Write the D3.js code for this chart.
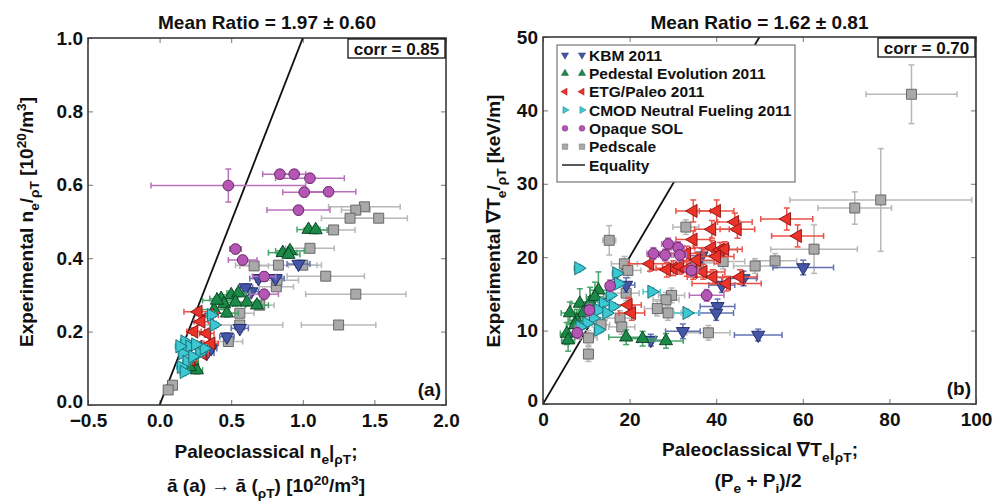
<!DOCTYPE html>
<html>
<head>
<meta charset="utf-8">
<script src="https://d3js.org/d3.v7.min.js"></script>
<style>
  body { margin: 0; background: #fff; }
  svg text { font-family: "Liberation Sans", Arial, sans-serif; font-weight: bold; fill: #111; }
  .frame { fill: none; stroke: #3a3a3a; stroke-width: 1.6; }
  .axis path { display: none; }
  .axis line { stroke: #777; stroke-width: 1; }
  .axis text { font-size: 19px; }
</style>
</head>
<body>
<svg id="chart" width="993" height="502"></svg>
<script>
// ---- data: each point is [x, y, xerr, yerr] ----
// panel (a): density
const kbmA = [[0.97,0.384,0.08,0.01],[0.69,0.345,0.06,0.01],[0.81,0.345,0.06,0.01],[0.64,0.309,0.05,0.01],
  [0.56,0.209,0.06,0.01],[0.47,0.186,0.05,0.01],[0.33,0.141,0.05,0.01],[0.36,0.154,0.04,0.01],[0.60,0.32,0.05,0.01]];
const pedA = [[1.04,0.478,0.08,0.01],[1.09,0.477,0.08,0.01],[0.86,0.415,0.1,0.01],[0.91,0.42,0.1,0.01],[0.90,0.41,0.08,0.01],
  [0.43,0.29,0.08,0.01],[0.50,0.30,0.1,0.01],[0.55,0.305,0.08,0.01],[0.45,0.275,0.06,0.01],[0.53,0.28,0.08,0.01],
  [0.61,0.28,0.1,0.01],[0.68,0.272,0.08,0.01],[0.38,0.26,0.1,0.01],[0.47,0.25,0.08,0.01],[0.26,0.095,0.04,0.01],
  [0.21,0.104,0.04,0.01],[0.23,0.12,0.04,0.01],[0.40,0.285,0.1,0.01]];
const etgA = [[0.27,0.254,0.1,0.01],[0.35,0.245,0.06,0.01],[0.29,0.227,0.05,0.01],[0.24,0.200,0.05,0.01],[0.33,0.195,0.05,0.01],
  [0.27,0.159,0.05,0.01],[0.36,0.168,0.05,0.01],[0.22,0.123,0.04,0.01],[0.30,0.14,0.04,0.01]];
const cmodA = [[0.36,0.245,0.03,0.01],[0.38,0.218,0.03,0.01],[0.175,0.173,0.03,0.01],[0.21,0.159,0.03,0.01],[0.28,0.141,0.03,0.01],
  [0.16,0.141,0.03,0.01],[0.19,0.118,0.03,0.01],[0.15,0.104,0.03,0.01],[0.23,0.132,0.03,0.01],[0.31,0.154,0.03,0.01],
  [0.14,0.16,0.03,0.01],[0.25,0.165,0.03,0.01],[0.17,0.09,0.03,0.01]];
const solA = [[0.48,0.598,0.54,0.045],[0.84,0.629,0.12,0.012],[0.94,0.629,0.08,0.012],[1.05,0.618,0.24,0.012],[1.01,0.580,0.15,0.012],
  [1.18,0.581,0.19,0.012],[0.97,0.531,0.22,0.012],[0.53,0.425,0.04,0.012],[0.58,0.395,0.1,0.012],[0.73,0.350,0.08,0.012],
  [0.73,0.302,0.1,0.012]];
const pedscaleA = [[1.43,0.540,0.25,0.01],[1.37,0.531,0.1,0.01],[1.33,0.509,0.2,0.01],[1.53,0.509,0.2,0.01],[1.215,0.477,0.15,0.01],
  [1.05,0.427,0.17,0.01],[0.83,0.381,0.3,0.01],[0.66,0.379,0.1,0.01],[1.0,0.381,0.1,0.01],[1.16,0.351,0.27,0.01],
  [0.815,0.322,0.12,0.01],[1.37,0.302,0.35,0.01],[1.25,0.218,0.26,0.01],[0.56,0.218,0.3,0.01],[0.48,0.173,0.1,0.01],
  [0.56,0.25,0.1,0.01],[0.09,0.054,0.02,0.01],[0.06,0.041,0.02,0.01],[0.70,0.272,0.1,0.01],[0.82,0.34,0.15,0.01]];

// panel (b): temperature gradient
const kbmB = [[36.6,20.2,3,1],[46.3,17.1,3,1],[41.3,16.2,3,1],[60.1,18.6,7,1],[40.3,13.3,4,1],[40.0,12.4,4,1],
  [32.3,9.9,4,1],[49.7,9.4,5.5,0.8],[24.9,8.7,3,0.8],[19.2,16.2,2,1]];
const pedB = [[12.8,15.5,2,2.5],[8.5,13.7,2,2],[10.9,13.9,2,2],[9.3,12.4,2,1.5],[7.8,11.4,2,1.5],[12.0,14.6,2,2],
  [6.2,12.4,2,1.5],[5.5,9.6,1.5,1.5],[5.8,8.7,1.5,1.5],[7.4,10.8,2,1.5],[19.2,9.1,4,1],[23.0,8.9,3,1],[28.4,8.6,4,1]];
const etgB = [[34.7,26.3,4,1.5],[40.1,26.3,4,1.5],[44.3,24.8,4,1.2],[44.9,23.8,4,1.2],[39.0,23.8,4,1.2],[56.3,25.2,6,1.5],
  [58.8,22.9,6,1.5],[34.7,22.4,4,1.2],[24.7,19.1,5,1],[39.0,21.3,4,1],[40.9,21.0,4,1],[42.0,21.1,4,1],[40.1,20.1,4,1],
  [33.2,20.5,4,1],[35.5,19.6,4,1],[30.1,18.5,4,1],[31.6,18.7,4,1],[33.2,18.4,4,1],[34.7,18.0,4,1],[37.0,18.0,5,1],
  [39.3,17.3,6,1],[42.4,16.4,8,1],[45.5,17.3,4,1],[19.7,13.5,3,1],[20.5,12.4,3,1],[28.6,18.3,4,1]];
const cmodB = [[8.2,18.5,1,0.5],[17.0,17.8,1,0.5],[25.1,15.3,2,0.5],[33.2,12.4,3,0.5],[15.5,14.8,1,0.5],[13.9,13.7,1,0.5],
  [16.2,13.3,1,0.5],[12.8,12.8,1,0.5],[14.7,12.4,1,0.5],[11.6,11.7,1,0.5],[10.1,11.0,1,0.5],[12.8,10.1,1,0.5],
  [8.5,10.5,1,0.5],[17.4,16.4,1,0.5]];
const solB = [[25.5,20.5,1.5,0.8],[28.2,20.3,1.5,0.8],[28.9,21.8,1.5,0.8],[31.2,21.3,1.5,0.8],[31.6,20.3,1.5,0.8],
  [34.3,18.2,1.5,0.8],[37.8,14.8,4,0.8],[15.5,16.1,1,0.8],[10.7,12.8,1,0.8],[7.9,9.7,1,0.8]];
const pedscaleB = [[85.1,42.2,10.5,4],[78.0,27.8,21,7],[72.0,26.7,8.5,2.2],[62.6,21.1,10,3.3],[53.6,19.5,5,1],[49.0,18.8,5,1],
  [41.6,19.4,5,1],[33.0,24.1,3,1],[15.3,22.3,1.5,2],[18.8,19.1,3,1],[19.6,18.2,3,1],[19.2,15.1,3,1],[29.7,14.8,3,1],
  [28.4,14.2,3,1],[26.4,13.0,3,1],[28.9,12.4,3,1],[38.2,9.7,5,1],[17.8,11.7,3,1],[18.2,10.5,3,1],[13.4,10.8,2,1],
  [10.5,9.0,2,1],[10.5,6.8,1,1],[35.5,19.2,4,1]];

const seriesNames = ["KBM 2011", "Pedestal Evolution 2011", "ETG/Paleo 2011", "CMOD Neutral Fueling 2011", "Opaque SOL", "Pedscale"];
const xTicksA = [-0.5, 0, 0.5, 1.0, 1.5, 2.0];
const yTicksA = [0, 0.2, 0.4, 0.6, 0.8, 1.0];
const xTicksB = [0, 20, 40, 60, 80, 100];
const yTicksB = [0, 10, 20, 30, 40, 50];
const titleA = "Mean Ratio = 1.97 \u00b1 0.60", titleB = "Mean Ratio = 1.62 \u00b1 0.81";
const corrA = "corr = 0.85", corrB = "corr = 0.70";

// marker styles: shape, fill, edge, error bar colour
const styles = {
  "KBM 2011":                  {shape: "down",   fill: "#4356a8", edge: "#1d2660", err: "#6272b4"},
  "Pedestal Evolution 2011":   {shape: "up",     fill: "#1b8a48", edge: "#0c3d20", err: "#46a468"},
  "ETG/Paleo 2011":            {shape: "left",   fill: "#ea3329", edge: "#8a1010", err: "#ea5248"},
  "CMOD Neutral Fueling 2011": {shape: "right",  fill: "#3cc8d2", edge: "#17686f", err: "#55c6ce"},
  "Opaque SOL":                {shape: "circle", fill: "#b556b5", edge: "#5e1f5e", err: "#bb70bb"},
  "Pedscale":                  {shape: "square", fill: "#a9a9a9", edge: "#5e5e5e", err: "#b8b8b8"}
};

const svg = d3.select("#chart");

function markerPath(shape, scale) {
  if (shape === "circle") return d3.symbol(d3.symbolCircle, 90 * scale)();
  if (shape === "square") return d3.symbol(d3.symbolSquare, 100 * scale)();
  return d3.symbol(d3.symbolTriangle, 75 * scale)();
}
function markerRot(shape) {
  return {down: 180, left: -90, right: 90, up: 0}[shape] || 0;
}

function drawPanel(p) {
  const x = d3.scaleLinear().domain(p.xDomain).range([p.left, p.right]);
  const y = d3.scaleLinear().domain(p.yDomain).range([p.bottom, p.top]);
  const w = p.right - p.left, h = p.bottom - p.top;

  const clipId = "clip" + p.id;
  svg.append("clipPath").attr("id", clipId)
    .append("rect").attr("x", p.left).attr("y", p.top).attr("width", w).attr("height", h);

  // ticks on all four sides, pointing inward
  svg.append("g").attr("class", "axis").attr("transform", "translate(0," + p.bottom + ")")
    .call(d3.axisBottom(x).tickValues(p.xTicks).tickSizeInner(-5).tickSizeOuter(0).tickPadding(9).tickFormat(p.xFmt));
  svg.append("g").attr("class", "axis").attr("transform", "translate(0," + p.top + ")")
    .call(d3.axisTop(x).tickValues(p.xTicks).tickSizeInner(-5).tickSizeOuter(0).tickFormat(""));
  const yAx = svg.append("g").attr("class", "axis").attr("transform", "translate(" + p.left + ",0)")
    .call(d3.axisLeft(y).tickValues(p.yTicks).tickSizeInner(-5).tickSizeOuter(0).tickPadding(5).tickFormat(p.yFmt));
  // lowest y label sits a touch higher, clear of the x labels
  yAx.selectAll(".tick text").filter(d => d === p.yTicks[0]).attr("dy", "0.12em");
  svg.append("g").attr("class", "axis").attr("transform", "translate(" + p.right + ",0)")
    .call(d3.axisRight(y).tickValues(p.yTicks).tickSizeInner(-5).tickSizeOuter(0).tickFormat(""));

  const plot = svg.append("g").attr("clip-path", "url(#" + clipId + ")");

  // equality line
  plot.append("line")
    .attr("x1", x(0)).attr("y1", y(0)).attr("x2", x(p.eqMax)).attr("y2", y(p.eqMax))
    .attr("stroke", "#111").attr("stroke-width", 1.8);

  const order = ["Pedscale", "KBM 2011", "Pedestal Evolution 2011", "ETG/Paleo 2011", "CMOD Neutral Fueling 2011", "Opaque SOL"];
  order.forEach(name => {
    const st = styles[name];
    const g = plot.append("g");
    const cap = 3;
    p.series[name].forEach(d => {
      const cx = x(d[0]), cy = y(d[1]);
      const x0 = x(d[0] - d[2]), x1 = x(d[0] + d[2]);
      const y0 = y(d[1] - d[3]), y1 = y(d[1] + d[3]);
      const e = g.append("g").attr("stroke", st.err).attr("stroke-width", 1.5);
      e.append("line").attr("x1", x0).attr("x2", x1).attr("y1", cy).attr("y2", cy);
      e.append("line").attr("x1", x0).attr("x2", x0).attr("y1", cy - cap).attr("y2", cy + cap);
      e.append("line").attr("x1", x1).attr("x2", x1).attr("y1", cy - cap).attr("y2", cy + cap);
      e.append("line").attr("x1", cx).attr("x2", cx).attr("y1", y0).attr("y2", y1);
      e.append("line").attr("x1", cx - cap).attr("x2", cx + cap).attr("y1", y0).attr("y2", y0);
      e.append("line").attr("x1", cx - cap).attr("x2", cx + cap).attr("y1", y1).attr("y2", y1);
    });
    g.selectAll("path.mk").data(p.series[name]).join("path").attr("class", "mk")
      .attr("d", markerPath(st.shape, 1))
      .attr("transform", d => "translate(" + x(d[0]) + "," + y(d[1]) + ") rotate(" + markerRot(st.shape) + ")")
      .attr("fill", st.fill).attr("stroke", st.edge).attr("stroke-width", 0.9);
  });

  svg.append("rect").attr("class", "frame").attr("x", p.left).attr("y", p.top).attr("width", w).attr("height", h);

  // title
  svg.append("text").attr("x", (p.left + p.right) / 2).attr("y", 29).attr("text-anchor", "middle")
    .style("font-size", "19px").text(p.title);

  // corr box
  const cb = svg.append("g");
  cb.append("rect").attr("x", p.right - 98).attr("y", p.top + 1).attr("width", 97).attr("height", 19)
    .attr("fill", "#fff").attr("stroke", "#111").attr("stroke-width", 1.3);
  cb.append("text").attr("x", p.right - 49.5).attr("y", p.top + 17).attr("text-anchor", "middle")
    .style("font-size", "17px").text(p.corr);

  // panel letter
  svg.append("text").attr("x", p.right - 5).attr("y", p.bottom - 9).attr("text-anchor", "end")
    .style("font-size", "19px").text(p.letter);

  return {x, y};
}

// add text made of runs: [str, "sub"|"sup"|null]
function richText(sel, runs, size) {
  let shift = 0;
  runs.forEach(r => {
    const t = sel.append("tspan").text(r[0]);
    let target = 0, fs = size;
    if (r[1] === "sub") { target = size * 0.3; fs = size * 0.72; }
    if (r[1] === "sup") { target = -size * 0.38; fs = size * 0.72; }
    t.attr("dy", target - shift).style("font-size", fs + "px");
    shift = target;
  });
  return sel;
}

const fmt1 = d3.format(".1f");
drawPanel({
  id: "a", left: 88, right: 446, top: 38, bottom: 405,
  xDomain: [-0.5, 2.0], yDomain: [0, 1.0], xTicks: xTicksA, yTicks: yTicksA,
  xFmt: d => fmt1(d).replace("-", "\u2212"), yFmt: fmt1, eqMax: 1.2,
  title: titleA, corr: corrA, letter: "(a)",
  series: {"KBM 2011": kbmA, "Pedestal Evolution 2011": pedA, "ETG/Paleo 2011": etgA,
           "CMOD Neutral Fueling 2011": cmodA, "Opaque SOL": solA, "Pedscale": pedscaleA}
});
drawPanel({
  id: "b", left: 543, right: 976, top: 37, bottom: 404,
  xDomain: [0, 100], yDomain: [0, 50], xTicks: xTicksB, yTicks: yTicksB,
  xFmt: d3.format("d"), yFmt: d3.format("d"), eqMax: 60,
  title: titleB, corr: corrB, letter: "(b)",
  series: {"KBM 2011": kbmB, "Pedestal Evolution 2011": pedB, "ETG/Paleo 2011": etgB,
           "CMOD Neutral Fueling 2011": cmodB, "Opaque SOL": solB, "Pedscale": pedscaleB}
});

// axis labels
richText(svg.append("text").attr("transform", "translate(33,222) rotate(-90)").attr("text-anchor", "middle"),
  [["Experimental n"], ["e", "sub"], ["/"], ["\u03c1T", "sub"], [" [10"], ["20", "sup"], ["/m"], ["3", "sup"], ["]"]], 19);
richText(svg.append("text").attr("transform", "translate(500,221) rotate(-90)").attr("text-anchor", "middle"),
  [["Experimental \u2207T"], ["e", "sub"], ["/"], ["\u03c1T", "sub"], [" [keV/m]"]], 19);
richText(svg.append("text").attr("x", 266).attr("y", 458).attr("text-anchor", "middle"),
  [["Paleoclassical n"], ["e", "sub"], ["|"], ["\u03c1T", "sub"], [";"]], 19);
richText(svg.append("text").attr("x", 266).attr("y", 492).attr("text-anchor", "middle"),
  [["\u0101 (a) \u2192 \u0101 ("], ["\u03c1T", "sub"], [") [10"], ["20", "sup"], ["/m"], ["3", "sup"], ["]"]], 19);
richText(svg.append("text").attr("x", 760).attr("y", 456).attr("text-anchor", "middle"),
  [["Paleoclassical \u2207T"], ["e", "sub"], ["|"], ["\u03c1T", "sub"], [";"]], 19);
richText(svg.append("text").attr("x", 758).attr("y", 487).attr("text-anchor", "middle"),
  [["(P"], ["e", "sub"], [" + P"], ["i", "sub"], [")/2"]], 19);

// legend in panel (b)
const legend = svg.append("g");
legend.append("rect").attr("x", 557).attr("y", 45).attr("width", 238).attr("height", 137)
  .attr("fill", "#fff").attr("stroke", "#777").attr("stroke-width", 1.2);
const rowY = d3.scalePoint().domain(seriesNames.concat(["Equality"])).range([55, 165]);
seriesNames.forEach(name => {
  const st = styles[name];
  [565, 582].forEach(mx => {
    legend.append("path").attr("d", markerPath(st.shape, 0.3))
      .attr("transform", "translate(" + mx + "," + rowY(name) + ") rotate(" + markerRot(st.shape) + ")")
      .attr("fill", st.fill).attr("stroke", st.edge).attr("stroke-width", 0.4);
  });
  legend.append("text").attr("x", 589).attr("y", rowY(name) + 5.5).style("font-size", "15.5px").text(name);
});
legend.append("line").attr("x1", 562).attr("x2", 585).attr("y1", rowY("Equality")).attr("y2", rowY("Equality"))
  .attr("stroke", "#111").attr("stroke-width", 1.4);
legend.append("text").attr("x", 589).attr("y", rowY("Equality") + 5.5).style("font-size", "15.5px").text("Equality");
</script>
</body>
</html>
